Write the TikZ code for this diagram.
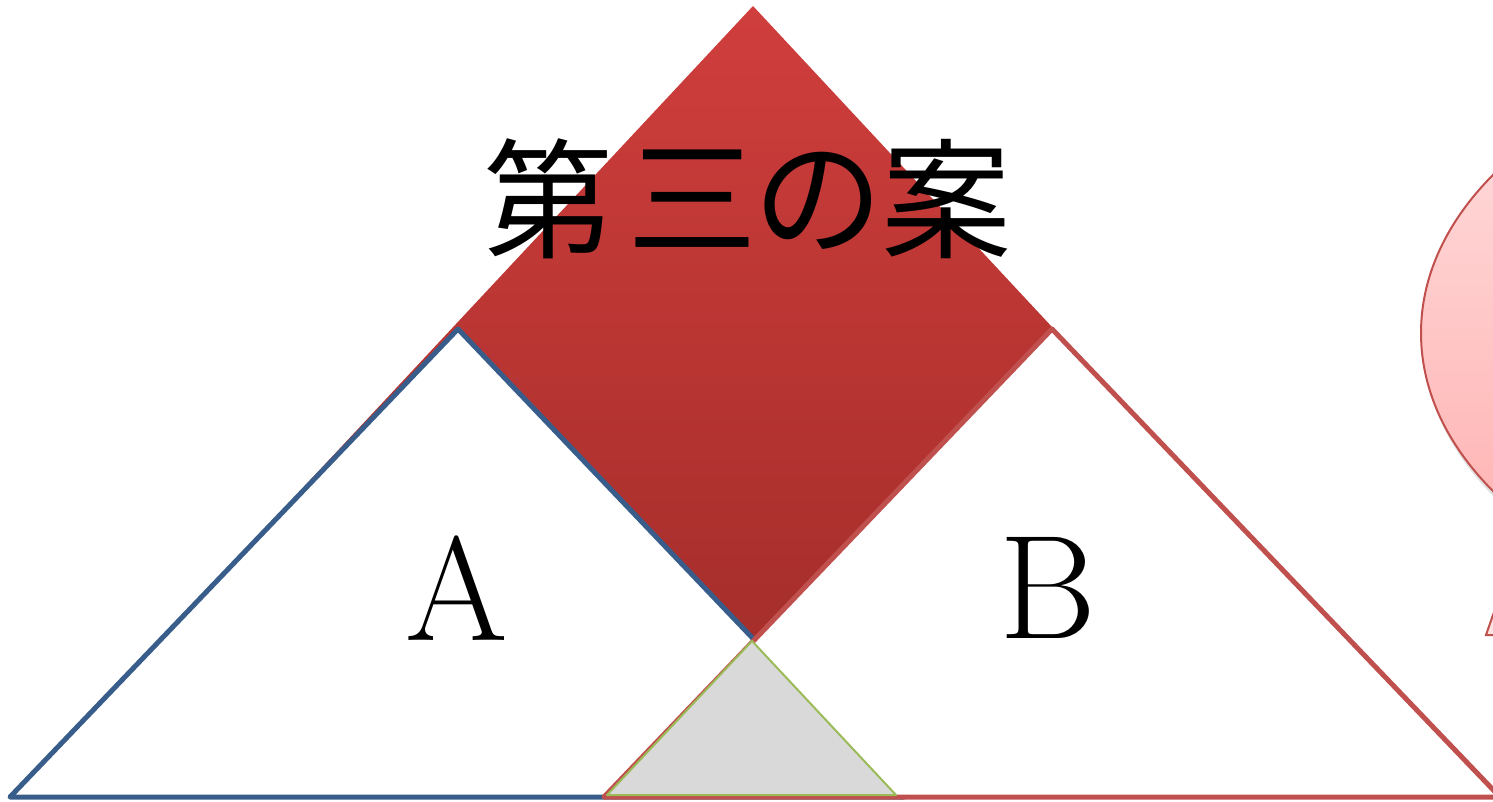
\documentclass[tikz,border=0pt]{standalone}
\usepackage{fontspec}
\newfontfamily\jpfont{Noto Sans CJK JP}
\definecolor{dtop}{RGB}{207,62,60}
\definecolor{dbot}{RGB}{166,46,43}
\definecolor{ablue}{RGB}{56,93,138}
\definecolor{bred}{RGB}{192,80,77}
\definecolor{ggreen}{RGB}{155,187,89}
\definecolor{gfill}{RGB}{217,217,217}
\definecolor{ptop}{RGB}{255,226,226}
\definecolor{pbot}{RGB}{255,170,170}
\begin{document}
\begin{tikzpicture}[x=1pt,y=-1pt,
  tri/.style={line width=5pt,line join=round,fill=white},
  jp/.style={inner sep=0pt,font=\jpfont\fontsize{130}{130}\selectfont},
  big/.style={inner sep=0pt,font=\fontsize{148}{148}\selectfont}]
\useasboundingbox (0,0) rectangle (1493,802);
\clip (0,0) rectangle (1493,802);
% coordinates
\coordinate (dT) at (753,6);
\coordinate (dR) at (1052,327);
\coordinate (dB) at (752,640);
\coordinate (dL) at (300,491);
\coordinate (aL) at (10,797);
\coordinate (aT) at (458,329);
\coordinate (aR) at (904,797);
\coordinate (bL) at (604,797);
\coordinate (bT) at (1052,329);
\coordinate (bR) at (1500,797);
\coordinate (gL) at (607,795);
\coordinate (gT) at (752,641);
\coordinate (gR) at (896,795);
\coordinate (eC) at (1901,333);
\coordinate (eS) at (1904,338);
% ellipse with shadow
\fill[black,opacity=0.12] (eS) ellipse [x radius=482, y radius=302];
\shade[top color=ptop,bottom color=pbot,draw=bred,line width=2pt] (eC) ellipse [x radius=480, y radius=300];
\filldraw[fill=ptop,draw=bred,line width=2pt] (1486,635) -- (1494,612) -- (1520,635) -- cycle;
% diamond
\shade[top color=dtop,bottom color=dbot] (dT) -- (dR) -- (dB) -- (dL) -- cycle;
% triangles
\draw[tri,draw=ablue] (aL) -- (aT) -- (aR) -- cycle;
\draw[tri,draw=bred] (bL) -- (bT) -- (bR) -- cycle;
\filldraw[fill=gfill,draw=ggreen,line width=2pt,line join=round] (gL) -- (gT) -- (gR) -- cycle;
% texts
\node[jp] (c1) at (548,199) {第};
\node[jp] (c2) at (692,199) {三};
\node[jp] (c3) at (818,201) {の};
\node[jp] (c4) at (946,199) {案};
\node[big] (la) at (457,588) {A};
\node[big] (lb) at (1048,588) {B};
\end{tikzpicture}
\end{document}
